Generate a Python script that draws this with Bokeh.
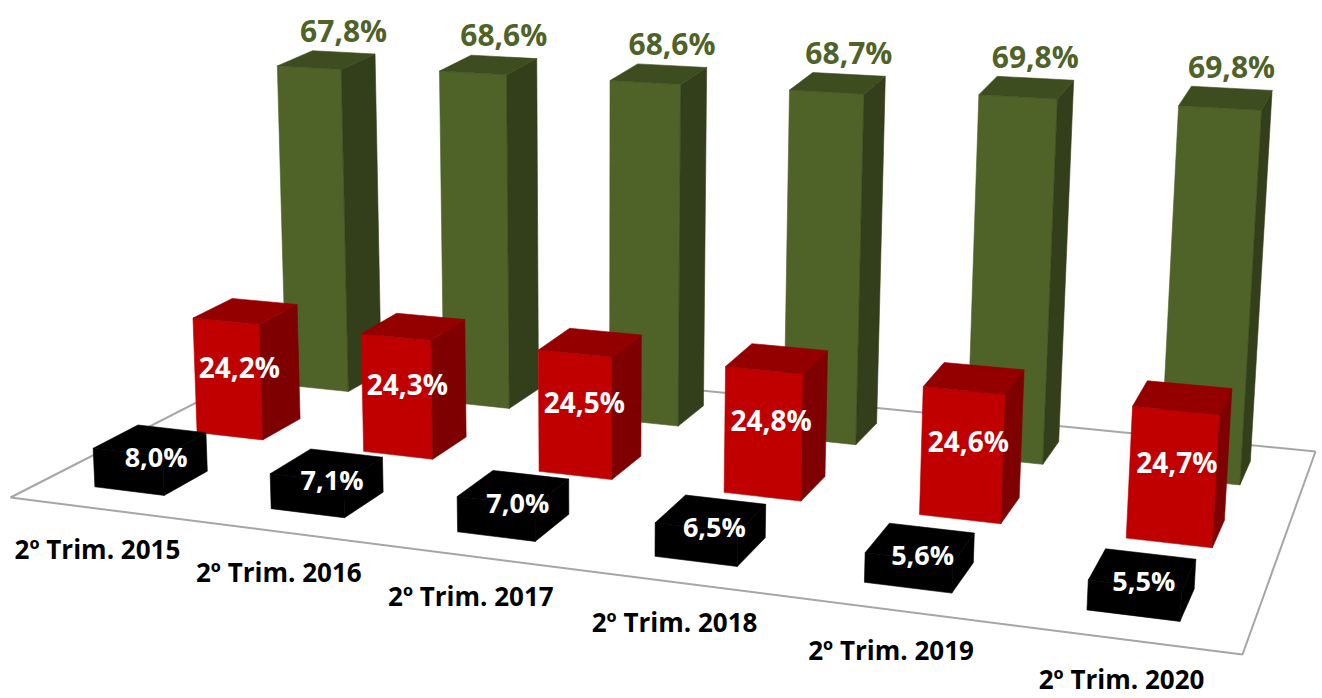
import numpy as np
from bokeh.plotting import figure
from bokeh.models import Range1d, ColumnDataSource
from bokeh.embed import file_html
from bokeh.resources import INLINE
from bokeh.core.properties import value

# ---------------- data ----------------
categories = ["2º Trim. 2015", "2º Trim. 2016", "2º Trim. 2017",
              "2º Trim. 2018", "2º Trim. 2019", "2º Trim. 2020"]
black_values = [8.0, 7.1, 7.0, 6.5, 5.6, 5.5]
red_values = [24.2, 24.3, 24.5, 24.8, 24.6, 24.7]
green_values = [67.8, 68.6, 68.6, 68.7, 69.8, 69.8]

# ---------------- 3D projection (perspective) ----------------
W, HGT = 1322, 698
N_CAT = len(categories)
N_ROW = 3
floor_world = [(0, 0), (N_CAT, 0), (N_CAT, N_ROW), (0, N_ROW)]
floor_screen = [(10, 497), (1242, 654), (1315, 451), (298, 350)]
VERT_VP = (596.0, 11600.0)   # vanishing point of vertical edges
BAR_W = 0.40                 # fraction of category
BAR_D = 0.42                 # fraction of row
ALPHA = 0.4                  # strength of depth (row) effect on vertical scale
Z_REF = 2.5


def homography(src, dst):
    A, b = [], []
    for (X, Z), (u, v) in zip(src, dst):
        A.append([X, Z, 1, 0, 0, 0, -u * X, -u * Z]); b.append(u)
        A.append([0, 0, 0, X, Z, 1, -v * X, -v * Z]); b.append(v)
    h = np.linalg.solve(np.array(A, float), np.array(b, float))
    return np.append(h, 1.0).reshape(3, 3)


H = homography(floor_world, floor_screen)
VCOL = np.array([VERT_VP[0], VERT_VP[1], 1.0])


def _vcol(X, Z):
    f = H @ np.array([X, Z, 1.0])
    fz = H @ np.array([X, Z_REF, 1.0])
    return f, VCOL * (f[2] / fz[2]) ** (1 - ALPHA)


def _k_from_anchor(X, Z, Y, v_target):
    f, c = _vcol(X, Z)
    return (v_target * f[2] - f[1]) / (Y * (c[1] - v_target * c[2]))


K = _k_from_anchor(0.5 + BAR_W / 2, 2.5 - BAR_D / 2, green_values[0], 69.0)


def proj(X, Z, Y):
    f, c = _vcol(X, Z)
    p = f + Y * K * c
    return p[0] / p[2], p[1] / p[2]


def bar_faces(i, row, h):
    x0, x1 = i + 0.5 - BAR_W / 2, i + 0.5 + BAR_W / 2
    z0, z1 = row + 0.5 - BAR_D / 2, row + 0.5 + BAR_D / 2
    front = [(x0, z0, 0), (x1, z0, 0), (x1, z0, h), (x0, z0, h)]
    side = [(x1, z0, 0), (x1, z1, 0), (x1, z1, h), (x1, z0, h)]
    top = [(x0, z0, h), (x1, z0, h), (x1, z1, h), (x0, z1, h)]
    out = []
    for face in (front, side, top):
        pts = [proj(*q) for q in face]
        out.append(([q[0] for q in pts], [q[1] for q in pts]))
    return out


def fmt(v):
    return f"{v:.1f}%".replace(".", ",")


# ---------------- figure ----------------
p = figure(width=W, height=HGT, x_range=Range1d(0, W), y_range=Range1d(HGT, 0),
           output_backend="svg", toolbar_location=None, min_border=0,
           x_axis_type=None, y_axis_type=None)
p.grid.visible = False
p.outline_line_color = None
p.background_fill_color = "white"
p.border_fill_color = "white"

# floor
fl = [proj(X, Z, 0) for X, Z in floor_world]
p.patch([q[0] for q in fl], [q[1] for q in fl], fill_color="white",
        line_color="#A6A6A6", line_width=2)

series = [  # back to front
    (2, green_values, ("#4F6228", "#333F1A", "#3E4D20")),
    (1, red_values, ("#C00000", "#7F0000", "#940000")),
    (0, black_values, ("#000000", "#000000", "#000000")),
]
for row, vals, cols in series:
    xs, ys, fc = [], [], []
    for i, v in enumerate(vals):
        for (fx, fy), c in zip(bar_faces(i, row, v), cols):
            xs.append(fx); ys.append(fy); fc.append(c)
    src = ColumnDataSource(dict(xs=xs, ys=ys, fc=fc))
    p.patches("xs", "ys", source=src, fill_color="fc", line_color="fc", line_width=0.6)

FONT = value("Open Sans")

# green labels above bars (at back top centre)
gx, gy = [], []
for i, v in enumerate(green_values):
    x, y = proj(i + 0.5, 2.5 + BAR_D / 2, v)
    gx.append(x); gy.append(y)
p.text(gx, gy, text=[fmt(v) for v in green_values], text_font=FONT,
       text_font_style="bold", text_font_size="30px", text_color="#4F6228",
       text_align="center", text_baseline="middle", y_offset=-22)

# red labels inside bars
rx, ry = [], []
for i, v in enumerate(red_values):
    x, y = proj(i + 0.5, 1.5 - BAR_D * 0.2, v * 0.55)
    rx.append(x); ry.append(y)
p.text(rx, ry, text=[fmt(v) for v in red_values], text_font=FONT,
       text_font_style="bold", text_font_size="28px", text_color="white",
       text_align="center", text_baseline="middle")

# black labels
bx, by = [], []
for i, v in enumerate(black_values):
    x, y = proj(i + 0.5, 0.55, v / 2)
    bx.append(x); by.append(y)
p.text(bx, by, text=[fmt(v) for v in black_values], text_font=FONT,
       text_font_style="bold", text_font_size="27px", text_color="white",
       text_align="center", text_baseline="middle")

# category labels in front of the floor
cx, cy = [], []
for i, c in enumerate(categories):
    x, y = proj(i + 0.5, 0, 0)
    cx.append(x); cy.append(y)
p.text(cx, cy, text=categories, text_font=FONT, text_font_style="bold",
       text_font_size="26px", text_color="black", text_align="center",
       text_baseline="middle", y_offset=40)

open("out.html", "w").write(file_html(p, INLINE))
